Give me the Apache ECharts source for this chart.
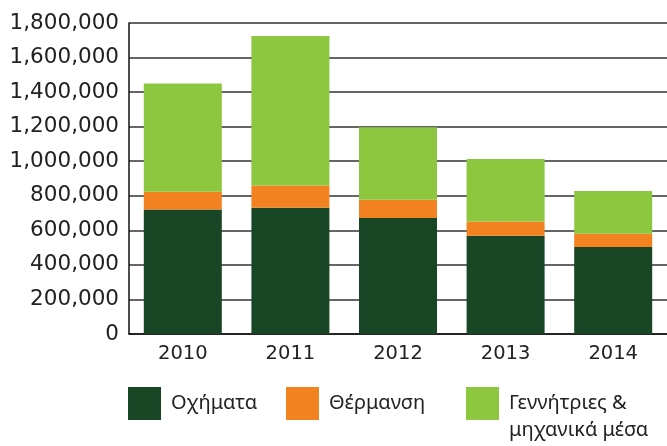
<!DOCTYPE html>
<html>
<head>
<meta charset="utf-8">
<script src="https://cdn.jsdelivr.net/npm/echarts@6/dist/echarts.min.js"></script>
<style>
	html, body { margin: 0; padding: 0; background: #fff; }
	#myChart { width: 667px; height: 446px; }
</style>
</head>
<body>
<div id="myChart"></div>
<script>
// years on the x axis
var years = ['2010', '2011', '2012', '2013', '2014'];
// stacked series, bottom to top
var vehicles = [720000, 730000, 672000, 568000, 504000];
var heating = [103000, 130000, 105000, 83000, 76000];
var generators = [627000, 865000, 420000, 362000, 248000];
var seriesNames = ['Οχήματα', 'Θέρμανση', 'Γεννήτριες &\nμηχανικά μέσα'];
var colors = ['#194625', '#f38220', '#8dc63f'];

var myChart = echarts.init(document.getElementById('myChart'));
var font = '"Noto Sans", sans-serif';
var numFont = '"DejaVu Sans", sans-serif';

function legendAt(name, left, top, extra) {
	var l = {
		data: [name],
		left: left,
		top: top,
		orient: 'horizontal',
		itemWidth: 33,
		itemHeight: 33,
		itemGap: 0,
		padding: 0,
		icon: 'rect',
		selectedMode: false,
		textStyle: { fontFamily: font, fontSize: 20, color: '#222', padding: [0, 0, 0, 5] }
	};
	if (extra) Object.assign(l, extra);
	return l;
}

var option = {
	backgroundColor: '#fff',
	animation: false,
	color: colors,
	grid: { left: 129, right: 0, top: 23, bottom: 112 },
	legend: [
		legendAt(seriesNames[0], 128, 387),
		legendAt(seriesNames[1], 286, 387),
		// two-line label: an empty first line keeps "Γεννήτριες &" level with the swatch
		legendAt(seriesNames[2], 466, 363, {
			formatter: function (name) { return '\n' + name; },
			textStyle: { fontFamily: font, fontSize: 20, color: '#222', lineHeight: 27, padding: [0, 0, 0, 5] }
		})
	],
	xAxis: {
		type: 'category',
		data: years,
		axisLine: { lineStyle: { color: '#111', width: 1.5 } },
		axisTick: { show: false },
		axisLabel: { fontFamily: numFont, fontSize: 19.5, color: '#222', margin: 10 }
	},
	yAxis: {
		type: 'value',
		min: 0,
		max: 1800000,
		interval: 200000,
		axisLine: { show: true, lineStyle: { color: '#111', width: 1.5 } },
		axisTick: { show: false },
		splitLine: { lineStyle: { color: '#333', width: 1.5 } },
		axisLabel: {
			fontFamily: numFont, fontSize: 21.5, color: '#222', margin: 10,
			formatter: function (v) { return v.toLocaleString('en-US'); }
		}
	},
	series: [
		{ name: seriesNames[0], type: 'bar', stack: 'a', barWidth: '72.5%', data: vehicles },
		{ name: seriesNames[1], type: 'bar', stack: 'a', barWidth: '72.5%', data: heating },
		{ name: seriesNames[2], type: 'bar', stack: 'a', barWidth: '72.5%', data: generators }
	]
};
myChart.setOption(option);
</script>
</body>
</html>
